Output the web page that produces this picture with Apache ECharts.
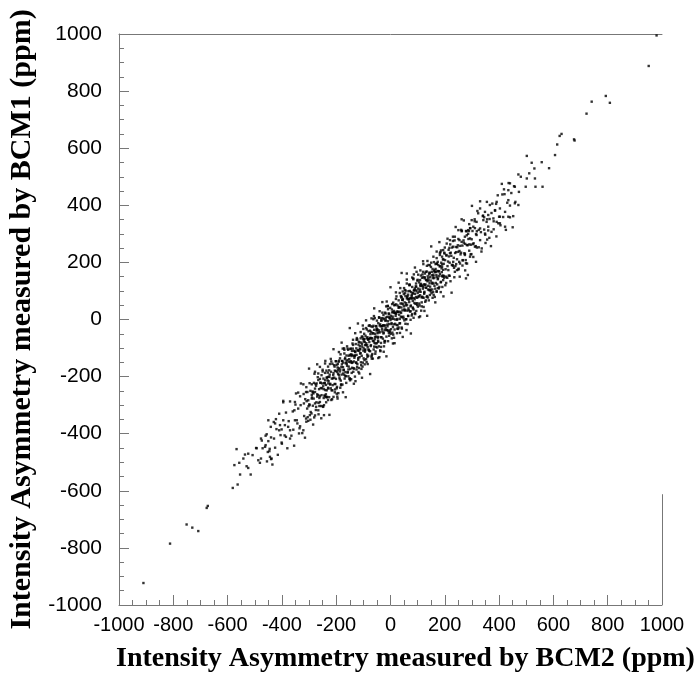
<!DOCTYPE html>
<html><head><meta charset="utf-8">
<script src="https://cdn.jsdelivr.net/npm/echarts/dist/echarts.min.js"></script>
<style>html,body{margin:0;padding:0;background:#fff}#c{width:699px;height:683px}</style>
</head><body><div id="c"></div>
<script>
// axis titles
const xTitle = 'Intensity Asymmetry measured by BCM2 (ppm)';
const yTitle = 'Intensity Asymmetry measured by BCM1 (ppm)';
const axisMin = -1000, axisMax = 1000, axisStep = 200;
// partial right frame line (value range on BCM1 axis at BCM2 = 1000)
const rightFrame = [-1000, -612];

// [BCM2, BCM1] pairs in ppm
const lowerTail = [[-910,-923],[-812,-785],[-751,-718],[-730,-729],[-708,-741],[-677,-660],[-673,-653]];
const lowerBand = [[-581,-590],[-563,-578],[-554,-543],[-515,-543],[-575,-510],[-567,-454],[-557,-502],[-542,-487],[-536,-473],[-524,-470],[-508,-475],[-530,-514],[-524,-520],[-487,-493],[-481,-502],[-493,-451],[-477,-487],[-471,-451],[-460,-440],[-452,-464],[-444,-481],[-438,-487],[-450,-426],[-477,-417],[-456,-402],[-441,-376],[-429,-417],[-422,-349],[-401,-385],[-395,-353],[-389,-370],[-407,-370],[-377,-376],[-370,-417],[-385,-411],[-370,-388],[-358,-386],[-352,-353],[-343,-364],[-333,-374],[-337,-399],[-321,-388],[-311,-347],[-303,-355],[-297,-335],[-395,-285],[-354,-318],[-340,-312],[-352,-289],[-331,-300],[-319,-294],[-307,-312],[-348,-259],[-333,-269],[-321,-227],[-311,-254],[-303,-283],[-290,-277],[-284,-259],[-278,-242],[-272,-224],[-266,-265],[-278,-294],[-260,-289],[-266,-318],[-248,-306],[-245,-335],[-235,-248],[-241,-213],[-229,-201],[-254,-195],[-266,-189],[-278,-183],[-260,-166],[-241,-154],[-229,-224],[-238,-271],[-309,-286],[-425,-364],[-410,-388],[-401,-431],[-462,-446],[-474,-424],[-495,-450],[-446,-461],[-440,-489],
[-460,-407],[-455,-497],[-450,-353],[-445,-453],[-440,-413],[-435,-508],[-430,-359],[-425,-449],[-420,-384],[-415,-474],[-410,-330],[-405,-405],[-400,-435],[-395,-290],[-390,-406],[-385,-326],[-380,-451],[-375,-356],[-370,-287],[-365,-407],[-360,-322],[-355,-442],[-350,-298],[-345,-353]];
const coreA = [[-298,-300],[-295,-250],[-291,-329],[-289,-273],[-286,-255],[-283,-277],[-281,-343],[-278,-254],[-276,-226],[-273,-290],[-270,-262],[-268,-202],[-265,-292],[-263,-244],[-260,-269],[-258,-221],[-256,-303],[-253,-241],[-251,-224],[-299,-297],[-287,-252],[-274,-306],[-262,-275],[-257,-240],
[-249,-304],[-247,-207],[-246,-244],[-244,-223],[-243,-266],[-241,-187],[-240,-247],[-238,-229],[-237,-290],[-235,-204],[-234,-271],[-232,-213],[-231,-186],[-229,-242],[-228,-216],[-226,-272],[-225,-201],[-223,-156],[-222,-225],[-220,-241],[-219,-183],[-217,-248],[-216,-207],[-214,-155],[-213,-230],[-211,-195],[-210,-271],[-208,-160],[-207,-204],[-205,-179],[-204,-245],[-202,-181],[-201,-208],[-248,-234],[-242,-268],[-236,-179],[-230,-239],[-224,-193],[-218,-282],[-212,-206],[-206,-165],[-203,-226]];
const coreB = [[-199,-159],[-198,-241],[-196,-184],[-195,-168],[-193,-191],[-192,-258],[-190,-171],[-189,-144],[-187,-209],[-186,-182],[-184,-122],[-183,-214],[-181,-166],[-180,-193],[-178,-145],[-177,-228],[-175,-167],[-174,-151],[-172,-176],[-171,-101],[-169,-207],[-168,-139],[-166,-184],[-165,-153],[-163,-222],[-162,-126],[-160,-162],[-159,-142],[-157,-184],[-156,-106],[-154,-165],[-153,-148],[-151,-208],[-150,-124],[-197,-236],[-194,-177],[-191,-148],[-188,-203],[-185,-175],[-182,-230],[-179,-157],[-176,-102],[-173,-178],[-170,-194],[-167,-134],[-164,-198],[-161,-155],[-158,-102],[-155,-175],[-152,-139],[-196,-270],
[-149,-213],[-148,-103],[-146,-146],[-145,-122],[-143,-187],[-142,-124],[-140,-150],[-139,-102],[-137,-183],[-136,-127],[-134,-110],[-133,-134],[-131,-200],[-130,-114],[-128,-86],[-127,-152],[-125,-124],[-124,-65],[-122,-156],[-121,-109],[-119,-135],[-118,-88],[-116,-170],[-115,-110],[-113,-93],[-112,-119],[-110,-44],[-109,-150],[-107,-81],[-106,-127],[-104,-95],[-103,-165],[-101,-68],[-147,-150],[-144,-128],[-141,-169],[-138,-89],[-135,-147],[-132,-128],[-129,-216],[-126,-101],[-123,-166],[-120,-107],[-117,-78],[-114,-132],[-111,-104],[-108,-160],[-105,-87],[-102,-21],[-100,-109],[-148,-173],[-142,-110],[-136,-171],[-131,-126],[-125,-71],[-119,-141],[-113,-102],[-107,-173],[-103,-60]];
const coreC = [[-99,-101],[-98,-77],[-96,-142],[-95,-79],[-93,-105],[-92,-57],[-90,-139],[-89,-83],[-87,-66],[-86,-90],[-84,-156],[-83,-69],[-81,-41],[-80,-107],[-78,-79],[-77,-20],[-75,-111],[-74,-64],[-72,-90],[-71,-43],[-69,-126],[-68,-66],[-66,-49],[-65,-75],[-63,1],[-62,-105],[-60,-36],[-59,-82],[-57,-50],[-56,-120],[-54,-23],[-53,-60],[-51,-39],[-50,-83],[-97,-50],[-94,-108],[-91,-89],[-88,-149],[-85,-62],[-82,-127],[-79,-68],[-76,-39],[-73,-93],[-70,-66],[-67,-121],[-64,-48],[-61,12],[-58,-69],[-55,-84],[-52,-24],[-99,-136],[-93,-90],[-87,-35],[-81,-105],[-75,-66],[-69,-137],[-63,-22],[-57,-61],[-51,-32],[-96,-68],[-84,-97],[-72,-24],[-60,-95],
[-49,-98],[-48,-35],[-46,-61],[-45,-13],[-43,-94],[-42,-38],[-40,-21],[-39,-45],[-37,-111],[-36,-24],[-34,4],[-33,-62],[-31,-34],[-30,24],[-28,-67],[-27,-20],[-25,-46],[-24,1],[-22,-81],[-21,-21],[-19,-4],[-18,-30],[-16,46],[-15,-60],[-13,9],[-12,-37],[-10,-6],[-9,-76],[-7,21],[-6,-16],[-4,5],[-3,-38],[-1,41],[-47,-64],[-44,-45],[-41,-132],[-38,-17],[-35,-82],[-32,-23],[-29,5],[-26,-49],[-23,-21],[-20,-76],[-17,-3],[-14,63],[-11,-24],[-8,-40],[-5,20],[-2,-44],[-48,-48],[-42,8],[-36,-62],[-30,-24],[-24,-94],[-18,21],[-12,-18],[-6,10],[-45,-78],[-33,-3],[-21,-37],[-9,36]];
const coreD = [[1,-50],[2,13],[4,-13],[5,35],[7,-46],[8,10],[10,26],[11,2],[13,-64],[14,23],[16,51],[17,-15],[19,13],[20,72],[22,-19],[23,28],[25,2],[26,49],[28,-33],[29,27],[31,43],[32,17],[34,93],[35,-13],[37,56],[38,10],[40,42],[41,-28],[43,69],[44,32],[46,53],[47,10],[49,89],[3,-16],[6,3],[9,-84],[12,30],[15,-35],[18,24],[21,53],[24,-1],[27,27],[30,-28],[33,44],[36,110],[39,23],[42,8],[45,68],[48,4],[0,-2],[6,54],[12,-17],[18,22],[24,-48],[30,67],[36,27],[42,56],[9,-26],[21,20],[33,-14],[45,98],
[51,-3],[52,60],[54,34],[55,82],[57,1],[58,57],[60,74],[61,50],[63,-16],[64,71],[66,99],[67,33],[69,61],[70,120],[72,28],[73,75],[75,49],[76,96],[78,14],[79,74],[81,91],[82,65],[84,141],[85,35],[87,104],[88,58],[90,90],[91,19],[93,116],[94,79],[96,100],[97,57],[99,136],[53,31],[56,50],[59,-37],[62,78],[65,13],[68,72],[71,100],[74,46],[77,74],[80,19],[83,92],[86,158],[89,71],[92,55],[95,115],[98,51],[50,46],[56,101],[62,31],[68,70],[74,-1],[80,114],[86,75],[92,103],[65,87],[83,39]];
const coreE = [[101,45],[102,108],[104,82],[105,130],[107,49],[108,105],[110,122],[111,97],[113,31],[114,118],[116,146],[117,80],[119,108],[120,167],[122,76],[123,123],[125,97],[126,144],[128,62],[129,122],[131,138],[132,112],[134,188],[135,82],[137,151],[138,105],[140,137],[141,67],[143,164],[144,127],[146,148],[147,105],[149,184],[103,79],[106,98],[109,11],[112,125],[115,60],[118,119],[121,148],[124,94],[127,122],[130,67],[133,139],[136,205],[139,118],[142,103],[145,163],[148,99],[100,93],[112,154],[124,90],[136,134],[148,136],[118,77],
[151,92],[152,155],[154,129],[155,177],[157,96],[158,152],[160,169],[161,145],[163,79],[164,166],[166,194],[167,128],[169,156],[170,215],[172,123],[173,170],[175,144],[176,191],[178,109],[179,169],[181,186],[182,160],[184,236],[185,130],[187,199],[188,153],[190,185],[191,114],[193,211],[194,174],[196,195],[197,152],[199,231],[153,126],[156,145],[159,86],[162,173],[165,108],[168,167],[171,195],[174,141],[177,169],[180,114],[183,187],[186,242],[189,166],[192,150],[195,210],[198,146]];
const coreF = [[203,176],[206,226],[209,146],[212,203],[215,221],[218,199],[221,134],[224,223],[227,252],[230,188],[233,216],[236,277],[239,187],[242,236],[245,211],[248,260],[251,178],[254,240],[257,258],[260,234],[263,311],[266,207],[269,277],[272,232],[275,265],[278,197],[281,295],[284,260],[287,282],[290,241],[293,320],[296,262],[299,281],[205,150],[217,251],[229,191],[241,254],[253,202],[265,259],[277,208],[289,310],
[304,264],[311,320],[318,252],[325,314],[333,306],[341,364],[349,297],[356,351],[364,286],[372,373],[380,344],[389,405],[397,337],[345,315],[315,299]];
// wider halo of the band
const coreWide = [[-340,-256],[-335,-381],[-330,-224],[-325,-398],[-320,-261],[-315,-414],[-310,-237],[-305,-342],[-300,-172],[-295,-351],[-290,-227],[-285,-368],[-280,-190],[-275,-317],[-270,-157],[-265,-332],[-260,-208],[-255,-346],[-250,-176],[-245,-300],[-240,-145],[-235,-273],[-230,-165],[-225,-334],[-220,-138],[-215,-279],[-210,-104],[-205,-255],[-200,-146],[-195,-277],[-190,-114],[-185,-239],[-180,-81],[-175,-255],[-170,-119],[-165,-272],[-160,-94],[-155,-199],[-150,-30],[-145,-209],[-140,-84],[-135,-225],[-130,-48],[-125,-175],[-120,-14],[-115,-189],[-110,-66],[-105,-204],[-100,-33],[-95,-157],[-90,-3],[-85,-131],[-80,-22],[-75,-191],[-70,4],[-65,-137],[-60,39],[-55,-112],[-50,-4],[-45,-135],[-40,29],[-35,-96],[-30,61],[-25,-113],[-20,24],[-15,-129],[-10,48],[-5,-57],[0,113],[5,-66],[10,59],[15,-83],[20,95],[25,-32],[30,129],[35,-47],[40,77],[45,-61],[50,110],[55,-15],[60,140],[65,12],[70,121],[75,-49],[80,147],[85,6],[90,182],[95,30],[100,139],[105,8],[110,172],[115,46],[120,204],[125,30],[130,167],[135,13],[140,191],[145,86],[150,256],[155,76],[160,201],[165,60],[170,238],[175,110],[180,271],[185,96],[190,220],[195,81],[200,252],[205,128],[210,283],[215,154],[220,263],[225,94],[230,290],[235,148],[240,324],[245,173],[250,282],[255,150],[260,314],[265,189],[270,347],[275,172],[280,309],[285,156],[290,334],[295,228],[300,398],[305,219],[310,344],[315,202],[320,380],[325,253],[330,414],[335,238],[340,362]];
const coreMid = [[-318,-338],[-314,-279],[-310,-358],[-306,-254],[-302,-304],[-298,-223],[-294,-324],[-290,-264],[-286,-302],[-282,-222],[-278,-336],[-274,-232],[-270,-270],[-266,-212],[-262,-303],[-258,-222],[-254,-265],[-250,-182],[-246,-275],[-242,-223],[-238,-262],[-234,-203],[-230,-282],[-226,-178],[-222,-228],[-218,-147],[-214,-248],[-210,-188],[-206,-226],[-202,-146],[-198,-260],[-194,-156],[-190,-194],[-186,-136],[-182,-227],[-178,-146],[-174,-189],[-170,-106],[-166,-199],[-162,-147],[-158,-186],[-154,-127],[-150,-206],[-146,-102],[-142,-152],[-138,-71],[-134,-172],[-130,-112],[-126,-150],[-122,-70],[-118,-184],[-114,-80],[-110,-118],[-106,-60],[-102,-151],[-98,-70],[-94,-113],[-90,-30],[-86,-123],[-82,-71],[-78,-110],[-74,-51],[-70,-130],[-66,-26],[-62,-76],[-58,5],[-54,-96],[-50,-36],[-46,-74],[-42,6],[-38,-108],[-34,-4],[-30,-42],[-26,16],[-22,-75],[-18,6],[-14,-37],[-10,46],[-6,-47],[-2,5],[2,-34],[6,25],[10,-53],[14,50],[18,0],[22,81],[26,-20],[30,41],[34,2],[38,82],[42,-32],[46,72],[50,35],[54,92],[58,1],[62,82],[66,39],[70,123],[74,29],[78,81],[82,42],[86,101],[90,23],[94,126],[98,76],[102,157],[106,56],[110,117],[114,78],[118,158],[122,44],[126,148],[130,111],[134,168],[138,77],[142,158],[146,115],[150,199],[154,105],[158,157],[162,118],[166,177],[170,99],[174,202],[178,152],[182,233],[186,132],[190,193],[194,154],[198,234],[202,120],[206,224],[210,187],[214,244],[218,153],[222,234],[226,191],[230,275],[234,181],[238,233],[242,194],[246,253],[250,175],[254,278],[258,228],[262,309],[266,208],[270,269],[274,230],[278,310],[282,196],[286,300],[290,263],[294,320],[298,229],[302,310],[306,267],[310,351],[314,257],[318,309]];
const upperBand = [[502,573],[520,549],[557,551],[584,530],[530,529],[511,512],[471,508],[480,500],[502,494],[532,494],[498,465],[534,465],[560,465],[440,477],[458,465],[473,447],[418,456],[434,453],[412,438],[434,418],[458,407],[471,401],[391,412],[366,401],[403,389],[385,383],[422,377],[440,399],[330,389],[348,377],[323,372],[360,366],[379,354],[403,360],[434,360],[452,362],[342,348],[354,342],[317,342],[299,348],[391,342],[403,337],[422,325],[262,351],[305,325],[330,319],[360,325],[372,307],[348,301],[317,296],[286,313],[274,290],[293,284],[330,278],[356,280],[250,313],[237,290],[219,278],[262,272],[281,261],[311,255],[336,249],[231,255],[207,266],[194,243],[219,232],[250,237],[274,226],[293,220],[182,226],[158,220],[201,208],[231,202],[256,196],[170,196],[145,190],[121,194],[188,179],[213,173],[237,167],[152,167],[127,161],[96,167],[170,149],[139,144],[109,138],[84,144],[60,126],[158,126],[194,138],[278,144],[121,114],[90,109],[53,103],[145,103],[170,97],[78,85],[109,85],[133,79],[41,79],[60,161],[41,163],
[345,358],[350,268],[355,412],[360,312],[365,352],[370,257],[375,406],[380,316],[385,381],[390,291],[395,435],[400,360],[405,330],[410,475],[415,359],[420,439],[425,314],[430,409],[435,478],[440,358],[445,443],[450,323],[455,467],[460,412]];
const upperTail = [[980,995],[951,888],[808,759],[793,783],[741,763],[722,721],[678,627],[676,631],[630,650],[623,643],[614,613],[606,576]];

const points = [].concat(lowerTail, lowerBand, coreA, coreB, coreC, coreD, coreE, coreF, coreWide, coreMid, upperBand, upperTail);

const axisGray = '#777777';
const chart = echarts.init(document.getElementById('c'), null, {renderer: 'canvas'});
chart.setOption({
  animation: false,
  backgroundColor: '#ffffff',
  grid: {left: 119, right: 37, top: 34, bottom: 78, containLabel: false, outerBoundsMode: 'none'},
  xAxis: [{
    type: 'value', position: 'bottom', min: axisMin, max: axisMax, interval: axisStep,
    axisLine: {show: true, onZero: false, lineStyle: {color: axisGray, width: 1}},
    axisTick: {show: true, inside: true, length: 10, lineStyle: {color: axisGray}},
    minorTick: {show: true, splitNumber: 4, length: 5, lineStyle: {color: axisGray}},
    splitLine: {show: false},
    axisLabel: {margin: 10, fontSize: 20, color: '#000', fontFamily: 'Liberation Sans', formatter: v => String(v)},
    name: xTitle, nameLocation: 'middle', nameGap: 40,
    nameTextStyle: {fontFamily: 'Liberation Serif', fontWeight: 'bold', fontSize: 28, color: '#000', padding: [0, 0, 0, 30]}
  }, {
    type: 'value', position: 'top', min: axisMin, max: axisMax, interval: axisStep,
    axisLine: {show: true, onZero: false, lineStyle: {color: axisGray, width: 1}},
    axisTick: {show: false}, axisLabel: {show: false}, splitLine: {show: false}
  }],
  yAxis: {
    type: 'value', min: axisMin, max: axisMax, interval: axisStep,
    axisLine: {show: true, onZero: false, lineStyle: {color: axisGray, width: 1}},
    axisTick: {show: true, inside: true, length: 10, lineStyle: {color: axisGray}},
    minorTick: {show: true, splitNumber: 4, length: 5, lineStyle: {color: axisGray}},
    splitLine: {show: false},
    axisLabel: {margin: 17, fontSize: 21, color: '#000', fontFamily: 'Liberation Sans', formatter: v => String(v)},
    name: yTitle, nameLocation: 'middle', nameGap: 77,
    nameTextStyle: {fontFamily: 'Liberation Serif', fontWeight: 'bold', fontSize: 30, color: '#000'}
  },
  series: [{
    type: 'scatter', xAxisIndex: 0, yAxisIndex: 0,
    data: points, symbol: 'rect', symbolSize: 2.4,
    itemStyle: {color: '#000'}, silent: true,
    markLine: {
      silent: true, symbol: ['none', 'none'], label: {show: false},
      lineStyle: {color: axisGray, width: 1, type: 'solid'},
      data: [[{coord: [axisMax, rightFrame[0]]}, {coord: [axisMax, rightFrame[1]]}]]
    }
  }]
});
</script>
</body></html>
